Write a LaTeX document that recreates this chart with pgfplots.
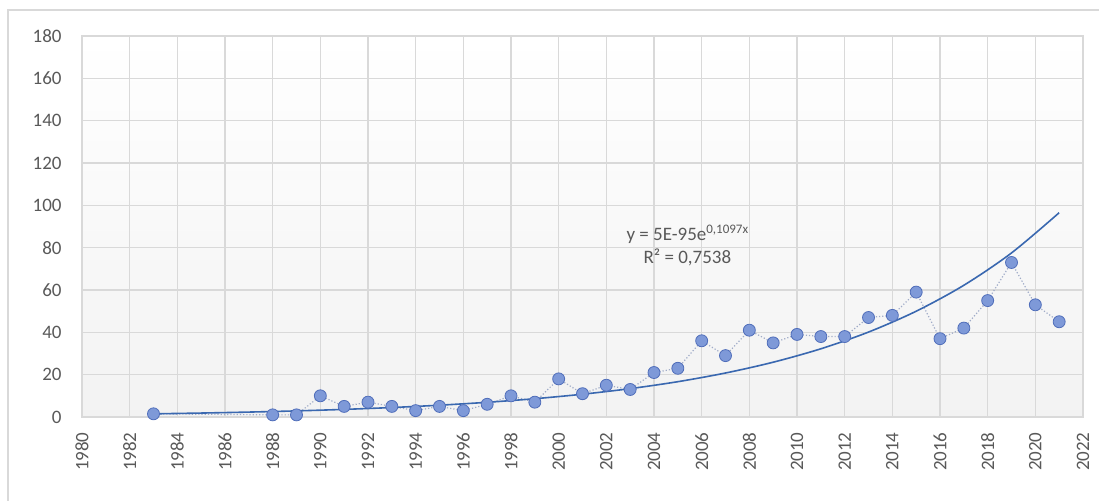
\documentclass[border=0pt]{standalone}
\usepackage{fontspec}
\setmainfont{Carlito}
\usepackage{pgfplots}
\pgfplotsset{compat=1.18}

\definecolor{gridgray}{RGB}{217,217,217}
\definecolor{labelgray}{RGB}{89,89,89}
\definecolor{markfill}{RGB}{126,153,216}
\definecolor{markedge}{RGB}{80,110,186}
\definecolor{trendblue}{RGB}{58,104,176}
\definecolor{linkgray}{RGB}{160,172,200}

\begin{document}
\begin{tikzpicture}
% page = 1099 x 501 px at 0.5pt per px
\useasboundingbox (-41pt,-42pt) rectangle (508.5pt,208.5pt);
\draw[gridgray, line width=0.6pt] (-37pt,-42pt) -- (-37pt,203.5pt) -- (508.5pt,203.5pt);

\begin{axis}[
    scale only axis,
    width=500.5pt, height=190.5pt,
    xmin=1980, xmax=2022,
    ymin=0, ymax=180,
    xtick distance=2,
    ytick distance=20,
    grid=major,
    grid style={gridgray, line width=0.6pt},
    axis line style={gridgray, line width=0.6pt},
    major tick length=0pt,
    axis background/.style={shade, top color=white, bottom color=black!5},
    /pgf/number format/assume math mode=true,
    /pgf/number format/1000 sep={},
    ticklabel style={font=\fontsize{9.5}{11}\selectfont, text=labelgray, inner sep=0pt},
    xticklabel style={rotate=90, anchor=east},
    xticklabel shift=7.5pt,
    yticklabel shift=10pt,
    clip=false,
]

% observed values (dotted link + markers)
\addplot[linkgray, densely dotted, line width=0.6pt,
    mark=*, mark size=3pt,
    mark options={solid, fill=markfill, draw=markedge, line width=0.4pt}]
coordinates {
    (1983,1.5) (1988,1) (1989,1) (1990,10) (1991,5) (1992,7) (1993,5)
    (1994,3) (1995,5) (1996,3) (1997,6) (1998,10) (1999,7) (2000,18)
    (2001,11) (2002,15) (2003,13) (2004,21) (2005,23) (2006,36) (2007,29)
    (2008,41) (2009,35) (2010,39) (2011,38) (2012,38) (2013,47) (2014,48)
    (2015,59) (2016,37) (2017,42) (2018,55) (2019,73) (2020,53) (2021,45)
};

% exponential trendline, values
\addplot[trendblue, line width=0.8pt, smooth] coordinates {
    (1983,1.49) (1985,1.86) (1987,2.32) (1989,2.88) (1991,3.59)
    (1993,4.47) (1995,5.57) (1997,6.94) (1999,8.64) (2001,10.76)
    (2003,13.40) (2005,16.68) (2007,20.78) (2009,25.88) (2011,32.22)
    (2013,40.12) (2015,49.97) (2017,62.23) (2019,77.50) (2021,96.51)
};

\node[align=center, text=labelgray, font=\fontsize{9.5}{11.5}\selectfont]
    at (axis cs:2005.4,81) {y = 5E-95e\raisebox{0.7ex}{\fontsize{6.5}{7}\selectfont 0,1097x}\\R² = 0,7538};
\end{axis}
\end{tikzpicture}
\end{document}
